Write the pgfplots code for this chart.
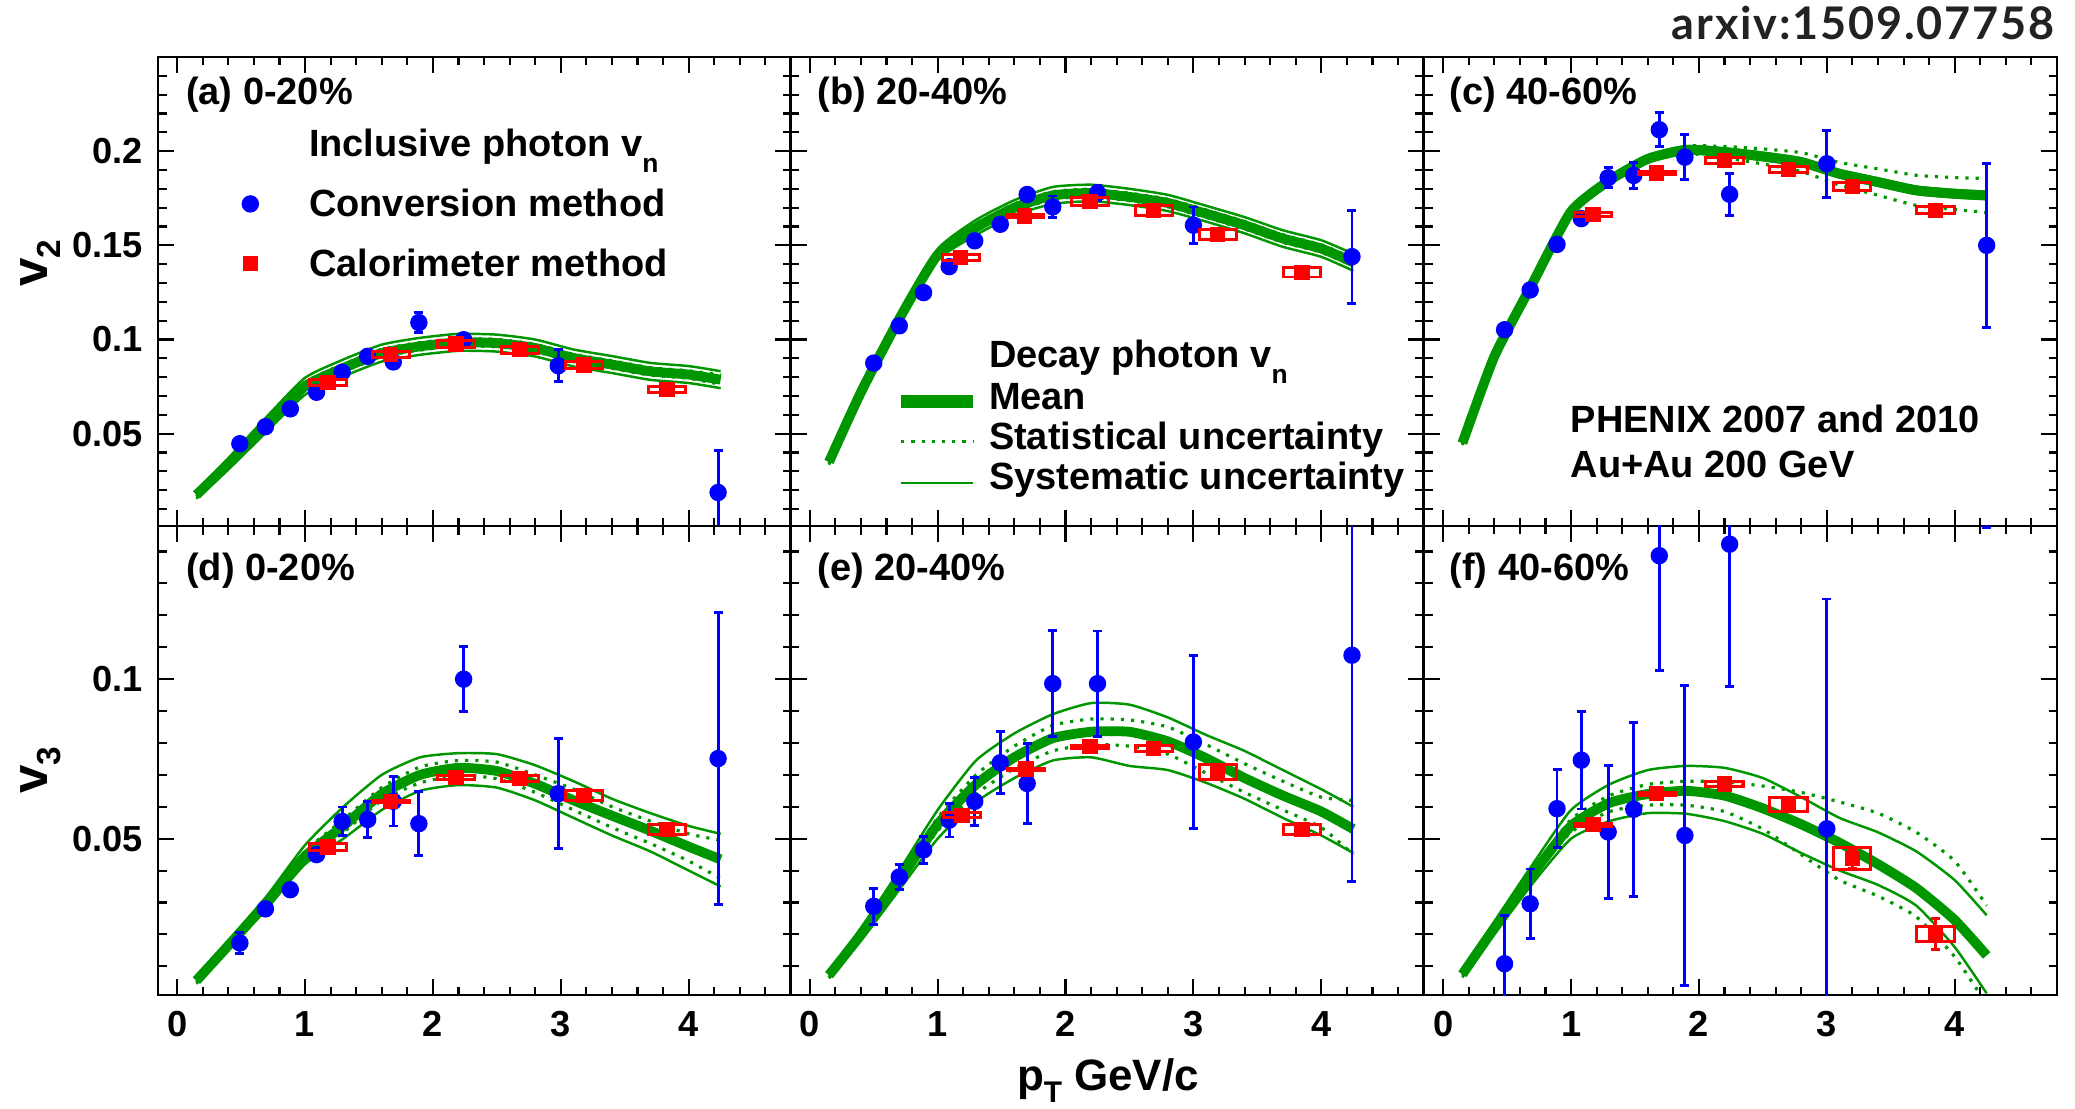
\documentclass[border=0pt]{standalone}
\usepackage{fontspec}
\setmainfont{Liberation Sans}
\newfontfamily\latofont{Lato}
\usepackage{pgfplots}
\pgfplotsset{compat=1.18}
\usepackage{pgfplotstable}

\definecolor{rgreen}{RGB}{0,150,0}
\definecolor{rblue}{RGB}{0,0,255}
\definecolor{rred}{RGB}{255,0,0}
\definecolor{arx}{RGB}{34,34,34}

\newcommand\txt{\fontsize{10.8}{12}\selectfont\bfseries}
\newcommand\tickfont{\fontsize{10.3}{12}\selectfont\bfseries}
\newcommand\titfont{\fontsize{12.5}{14}\selectfont\bfseries}
\newcommand\ytitfont{\fontsize{14.5}{16}\selectfont\bfseries}
\newcommand\sub[1]{\raisebox{-1.6mm}{\fontsize{7.5}{8}\selectfont #1}}
\newcommand\tsub[1]{\raisebox{-1.2mm}{\fontsize{8.5}{9}\selectfont #1}}
\newcommand\ysub[1]{\raisebox{-1.3mm}{\fontsize{9.5}{10}\selectfont #1}}

% ---------------- decay photon bands: x, mean, sys up, sys low, stat up, stat low
\pgfplotstableread{
x m su sl tu tl
0.15 0.0175 0.0195 0.0155 0.0185 0.0165
0.4 0.034 0.037 0.031 0.0355 0.0325
0.7 0.055 0.059 0.051 0.057 0.053
1.0 0.0752 0.0797 0.0707 0.0772 0.0732
1.3 0.0849 0.0894 0.0804 0.0869 0.0829
1.6 0.0928 0.0973 0.0883 0.0948 0.0908
1.9 0.0964 0.1009 0.0919 0.0984 0.0944
2.2 0.0985 0.103 0.094 0.1005 0.0965
2.5 0.0981 0.1026 0.0936 0.1001 0.0961
2.8 0.0955 0.100 0.091 0.0975 0.0935
3.1 0.0902 0.0947 0.0857 0.0922 0.0882
3.4 0.0867 0.0912 0.0822 0.0887 0.0847
3.7 0.0831 0.0876 0.0786 0.0851 0.0811
4.0 0.0814 0.0859 0.0769 0.0834 0.0794
4.25 0.0787 0.0832 0.0742 0.0812 0.0762
}\banda
\pgfplotstableread{
x m su sl tu tl
0.15 0.035 0.0365 0.0335 0.036 0.034
0.4 0.072 0.074 0.070 0.073 0.071
0.7 0.111 0.1135 0.1085 0.112 0.110
1.0 0.145 0.148 0.142 0.1465 0.1435
1.3 0.1595 0.1635 0.1555 0.1615 0.1575
1.6 0.170 0.174 0.166 0.172 0.168
1.9 0.1765 0.181 0.172 0.1785 0.1745
2.2 0.1778 0.1822 0.1734 0.1798 0.1758
2.5 0.1757 0.180 0.1714 0.1777 0.1737
2.8 0.1725 0.1768 0.1682 0.1745 0.1705
3.1 0.1668 0.171 0.1626 0.1688 0.1648
3.4 0.1607 0.165 0.1564 0.1627 0.1587
3.7 0.1536 0.158 0.1492 0.1556 0.1516
4.0 0.1483 0.1527 0.1439 0.1503 0.1463
4.25 0.141 0.1455 0.1365 0.143 0.139
}\bandb
\pgfplotstableread{
x m su sl tu tl
0.15 0.045 0.046 0.044 0.0458 0.0442
0.4 0.091 0.0925 0.0895 0.092 0.090
0.7 0.130 0.132 0.128 0.131 0.129
1.0 0.168 0.170 0.166 0.1693 0.1667
1.3 0.1845 0.1865 0.1825 0.186 0.183
1.6 0.1959 0.1979 0.1939 0.1974 0.1944
1.9 0.2007 0.2027 0.1987 0.2027 0.1987
2.2 0.1995 0.2015 0.1975 0.2025 0.1965
2.5 0.1972 0.1992 0.1952 0.2012 0.1932
2.8 0.1942 0.1962 0.1922 0.1992 0.1892
3.1 0.188 0.190 0.186 0.194 0.182
3.4 0.1836 0.1856 0.1816 0.1906 0.1766
3.7 0.1792 0.1812 0.1772 0.1872 0.1712
4.0 0.1774 0.1794 0.1754 0.186 0.169
4.25 0.1765 0.1785 0.1745 0.1855 0.1675
}\bandc
\pgfplotstableread{
x m su sl tu tl
0.15 0.0055 0.0065 0.0045 0.006 0.005
0.4 0.0165 0.018 0.015 0.0175 0.0155
0.7 0.030 0.032 0.028 0.031 0.029
1.0 0.0445 0.048 0.042 0.046 0.043
1.3 0.054 0.060 0.050 0.056 0.052
1.6 0.064 0.070 0.059 0.066 0.062
1.9 0.0700 0.0755 0.0650 0.0725 0.0675
2.2 0.0722 0.0768 0.0668 0.0745 0.0698
2.5 0.0712 0.0765 0.0660 0.0740 0.0688
2.8 0.0672 0.0730 0.0620 0.0700 0.0645
3.1 0.0620 0.0680 0.0565 0.0655 0.0590
3.4 0.0572 0.0625 0.0510 0.0600 0.0535
3.7 0.0525 0.0580 0.0460 0.0555 0.0485
4.0 0.0475 0.0540 0.0400 0.0515 0.0430
4.25 0.0435 0.0515 0.0350 0.0495 0.0375
}\bandd
\pgfplotstableread{
x m su sl tu tl
0.15 0.0072 0.0082 0.0062 0.0078 0.0066
0.4 0.020 0.022 0.018 0.021 0.019
0.7 0.037 0.040 0.034 0.0385 0.0355
1.0 0.0545 0.059 0.050 0.0565 0.0525
1.3 0.067 0.0745 0.0615 0.070 0.064
1.6 0.0755 0.083 0.069 0.079 0.072
1.9 0.0815 0.089 0.0745 0.0855 0.0775
2.2 0.0835 0.0925 0.0755 0.0875 0.0795
2.5 0.0835 0.092 0.0728 0.0872 0.0790
2.8 0.0805 0.088 0.0715 0.0850 0.0765
3.1 0.0752 0.0825 0.0675 0.0795 0.0705
3.4 0.0690 0.0775 0.0625 0.0735 0.0645
3.7 0.0635 0.0715 0.0565 0.0680 0.0590
4.0 0.0585 0.0655 0.0510 0.0630 0.0535
4.25 0.0530 0.0600 0.0455 0.0620 0.0450
}\bande
\pgfplotstableread{
x m su sl tu tl
0.15 0.0075 0.0085 0.0065 0.008 0.007
0.4 0.022 0.024 0.020 0.023 0.021
0.7 0.039 0.042 0.036 0.040 0.038
1.0 0.054 0.059 0.050 0.056 0.052
1.3 0.0612 0.067 0.0555 0.0635 0.0585
1.6 0.064 0.0715 0.058 0.067 0.0605
1.9 0.065 0.0728 0.0578 0.068 0.0605
2.2 0.0635 0.0722 0.0555 0.0678 0.0585
2.5 0.0595 0.069 0.0515 0.0665 0.053
2.8 0.0545 0.063 0.0455 0.0645 0.045
3.1 0.0487 0.0565 0.040 0.0615 0.037
3.4 0.042 0.052 0.0355 0.058 0.032
3.7 0.0345 0.046 0.029 0.052 0.0255
4.0 0.0245 0.037 0.016 0.043 0.013
4.25 0.0134 0.026 0.0015 0.029 -0.002
}\bandf

% ---------------- conversion method: x, v, stat error
\pgfplotstableread{
x y ey
0.49 0.0447 0.0012
0.69 0.0537 0.0012
0.885 0.0632 0.0012
1.09 0.0720 0.0012
1.29 0.0826 0.0012
1.49 0.0911 0.0012
1.69 0.0881 0.0015
1.89 0.1090 0.0053
2.24 0.0999 0.0030
2.98 0.0861 0.0084
4.23 0.0188 0.0221
}\conva
\pgfplotstableread{
x y ey
0.50 0.0875 0.0012
0.70 0.1073 0.0012
0.89 0.1249 0.0012
1.09 0.1387 0.0012
1.29 0.1524 0.0012
1.49 0.1612 0.0012
1.70 0.1770 0.0020
1.90 0.1704 0.0058
2.25 0.1778 0.0040
3.00 0.1607 0.0097
4.24 0.1440 0.0247
}\convb
\pgfplotstableread{
x y ey
0.48 0.1052 0.0012
0.68 0.1263 0.0012
0.89 0.1505 0.0012
1.08 0.1642 0.0012
1.29 0.1859 0.0053
1.49 0.1871 0.0068
1.69 0.2114 0.0090
1.89 0.1968 0.0119
2.24 0.1771 0.0112
3.00 0.1933 0.0178
4.25 0.1500 0.0436
}\convc
\pgfplotstableread{
x y ey
0.49 0.0173 0.0032
0.69 0.0280 0.0010
0.885 0.0340 0.0015
1.09 0.0450 0.0015
1.29 0.0554 0.0045
1.49 0.0560 0.0056
1.69 0.0617 0.0077
1.89 0.0547 0.0100
2.24 0.1000 0.0102
2.98 0.0641 0.0172
4.23 0.0751 0.0458
}\convd
\pgfplotstableread{
x y ey
0.50 0.0288 0.0056
0.70 0.0380 0.0040
0.89 0.0465 0.0042
1.09 0.0558 0.0053
1.29 0.0617 0.0075
1.49 0.0738 0.0097
1.70 0.0673 0.0126
1.90 0.0986 0.0167
2.25 0.0986 0.0165
3.00 0.0803 0.0270
4.24 0.1075 0.0710
}\conve
\pgfplotstableread{
x y ey
0.48 0.0108 0.0151
0.68 0.0296 0.0109
0.89 0.0594 0.0122
1.08 0.0746 0.0153
1.29 0.0521 0.0208
1.49 0.0592 0.0272
1.69 0.1387 0.0360
1.89 0.0510 0.0470
2.24 0.1423 0.0446
3.00 0.0531 0.0720
4.25 0.1900 0.0425
}\convf

% ---------------- calorimeter method: x, v, stat error
\pgfplotstableread{
x y ey
1.18 0.0773 0.0005
1.67 0.0919 0.0005
2.18 0.0976 0.0005
2.68 0.0946 0.0005
3.18 0.0865 0.0005
3.83 0.0734 0.0005
}\cala
\pgfplotstableread{
x y ey
1.18 0.1434 0.0005
1.68 0.1656 0.0005
2.19 0.1734 0.0005
2.69 0.1686 0.0005
3.19 0.1557 0.0005
3.85 0.1357 0.0005
}\calb
\pgfplotstableread{
x y ey
1.17 0.1665 0.0005
1.67 0.1885 0.0005
2.20 0.1950 0.0005
2.70 0.1903 0.0005
3.20 0.1813 0.0005
3.85 0.1686 0.0005
}\calc
\pgfplotstableread{
x y ey
1.18 0.0474 0.0003
1.67 0.0616 0.0003
2.18 0.0691 0.0003
2.68 0.0689 0.0003
3.18 0.0636 0.0003
3.83 0.0528 0.0003
}\cald
\pgfplotstableread{
x y ey
1.19 0.0573 0.0003
1.69 0.0718 0.0003
2.19 0.0788 0.0003
2.69 0.0782 0.0003
3.19 0.0709 0.0003
3.85 0.0529 0.0003
}\cale
\pgfplotstableread{
x y ey
1.17 0.0544 0.0003
1.67 0.0641 0.0003
2.20 0.0671 0.0003
2.70 0.0607 0.0008
3.20 0.0437 0.0030
3.85 0.0202 0.0049
}\calf

\pgfplotsset{
  panel/.style={
    width=63.3mm, height=46.9mm, scale only axis, anchor=south west,
    xmin=-0.15, xmax=4.8,
    xtick={0,1,2,3,4},
    minor xtick={0.2,0.4,0.6,0.8,1.2,1.4,1.6,1.8,2.2,2.4,2.6,2.8,3.2,3.4,3.6,3.8,4.2,4.4,4.6},
    tick align=inside, xtick pos=both, ytick pos=both,
    xticklabel pos=lower, yticklabel pos=left,
    major tick length=1.6mm, minor tick length=0.85mm,
    tick style={black, line width=0.6pt},
    axis line style={line width=0.8pt},
    clip mode=individual,
    ticklabel style={font=\tickfont},
    /pgf/number format/assume math mode=true,
    /pgf/number format/fixed,
    /pgf/number format/precision=2,
    xticklabel style={yshift=-0.4mm},
    yticklabel style={xshift=-0.3mm},
  },
  toprow/.style={ymin=0.001, ymax=0.25, ytick={0.05,0.1,0.15,0.2},
    minor ytick={0.01,0.02,0.03,0.04,0.06,0.07,0.08,0.09,0.11,0.12,0.13,0.14,0.16,0.17,0.18,0.19,0.21,0.22,0.23,0.24}},
  botrow/.style={ymin=0.001, ymax=0.148, ytick={0.05,0.1},
    minor ytick={0.01,0.02,0.03,0.04,0.06,0.07,0.08,0.09,0.11,0.12,0.13,0.14}},
  meanl/.style={rgreen, line width=2.8pt, smooth, tension=0.35, no marks},
  sysl/.style={rgreen, line width=0.7pt, smooth, tension=0.35, no marks},
  statl/.style={rgreen, line width=0.9pt, dash pattern=on 0.9pt off 2pt, smooth, tension=0.35, no marks},
  convp/.style={only marks, mark=*, mark size=0.8mm, rblue, mark options={fill=rblue, draw=rblue},
    error bars/.cd, y dir=both, y explicit, error mark=-,
    error bar style={line width=0.8pt, rblue},
    error mark options={rotate=90, rblue, mark size=0.45mm, line width=0.8pt}},
  calp/.style={only marks, mark=square*, mark size=0.7mm, rred, mark options={fill=rred, draw=rred},
    error bars/.cd, y dir=both, y explicit, error mark=-,
    error bar style={line width=0.8pt, rred},
    error mark options={rotate=90, rred, mark size=0.45mm, line width=0.8pt}},
  sysbox/.style={rred, line width=0.85pt, no marks, sharp plot, unbounded coords=jump},
}

\newcommand\drawbands[1]{%
  \addplot[sysl] table[x=x,y=su]{#1};
  \addplot[sysl] table[x=x,y=sl]{#1};
  \addplot[statl] table[x=x,y=tu]{#1};
  \addplot[statl] table[x=x,y=tl]{#1};
  \addplot[meanl] table[x=x,y=m]{#1};
}

\begin{document}
\begin{tikzpicture}
\path[use as bounding box] (0,0) rectangle (207.5mm,-110.9mm);

% ================= (a)
\begin{axis}[panel, toprow, at={(15.8mm,-52.6mm)}, xticklabel=\empty]
\drawbands{\banda}
\addplot[convp] table[x=x,y=y,y error=ey]{\conva};
\addplot[sysbox] table{
x y
1.035 0.0756
1.325 0.0756
1.325 0.0790
1.035 0.0790
1.035 0.0756
1.325 0.0756
nan nan
1.525 0.0902
1.815 0.0902
1.815 0.0936
1.525 0.0936
1.525 0.0902
1.815 0.0902
nan nan
2.035 0.0959
2.325 0.0959
2.325 0.0993
2.035 0.0993
2.035 0.0959
2.325 0.0959
nan nan
2.535 0.0928
2.825 0.0928
2.825 0.0964
2.535 0.0964
2.535 0.0928
2.825 0.0928
nan nan
3.035 0.0845
3.325 0.0845
3.325 0.0885
3.035 0.0885
3.035 0.0845
3.325 0.0845
nan nan
3.685 0.0719
3.975 0.0719
3.975 0.0749
3.685 0.0749
3.685 0.0719
3.975 0.0719
};
\addplot[calp] table[x=x,y=y,y error=ey]{\cala};
% legend swatches
\addplot[only marks, mark=*, mark size=0.8mm, rblue, mark options={fill=rblue}] coordinates {(0.572,0.172)};
\addplot[only marks, mark=square*, mark size=0.7mm, rred, mark options={fill=rred}] coordinates {(0.572,0.1405)};
\end{axis}

% ================= (b)
\begin{axis}[panel, toprow, at={(79.06mm,-52.6mm)}, xticklabel=\empty, yticklabel=\empty]
\drawbands{\bandb}
\addplot[convp] table[x=x,y=y,y error=ey]{\convb};
\addplot[sysbox] table{
x y
1.035 0.1417
1.325 0.1417
1.325 0.1451
1.035 0.1451
1.035 0.1417
1.325 0.1417
nan nan
1.535 0.1648
1.825 0.1648
1.825 0.1664
1.535 0.1664
1.535 0.1648
1.825 0.1648
nan nan
2.045 0.1714
2.335 0.1714
2.335 0.1754
2.045 0.1754
2.045 0.1714
2.335 0.1714
nan nan
2.545 0.1661
2.835 0.1661
2.835 0.1711
2.545 0.1711
2.545 0.1661
2.835 0.1661
nan nan
3.045 0.1530
3.335 0.1530
3.335 0.1584
3.045 0.1584
3.045 0.1530
3.335 0.1530
nan nan
3.705 0.1332
3.995 0.1332
3.995 0.1382
3.705 0.1382
3.705 0.1332
3.995 0.1332
};
\addplot[calp] table[x=x,y=y,y error=ey]{\calb};
% legend line samples
\addplot[rgreen, line width=3.6pt, no marks] coordinates {(0.715,0.067) (1.275,0.067)};
\addplot[rgreen, line width=0.9pt, dash pattern=on 0.9pt off 2pt, no marks] coordinates {(0.715,0.0458) (1.275,0.0458)};
\addplot[rgreen, line width=0.7pt, no marks] coordinates {(0.715,0.0237) (1.275,0.0237)};
\end{axis}

% ================= (c)
\begin{axis}[panel, toprow, at={(142.4mm,-52.6mm)}, xticklabel=\empty, yticklabel=\empty]
\drawbands{\bandc}
\addplot[convp] table[x=x,y=y,y error=ey]{\convc};
\addplot[sysbox] table{
x y
1.025 0.1653
1.315 0.1653
1.315 0.1677
1.025 0.1677
1.025 0.1653
1.315 0.1653
nan nan
1.525 0.1877
1.815 0.1877
1.815 0.1893
1.525 0.1893
1.525 0.1877
1.815 0.1877
nan nan
2.055 0.1933
2.345 0.1933
2.345 0.1967
2.055 0.1967
2.055 0.1933
2.345 0.1933
nan nan
2.555 0.1885
2.845 0.1885
2.845 0.1921
2.555 0.1921
2.555 0.1885
2.845 0.1885
nan nan
3.055 0.1793
3.345 0.1793
3.345 0.1833
3.055 0.1833
3.055 0.1793
3.345 0.1793
nan nan
3.705 0.1668
3.995 0.1668
3.995 0.1704
3.705 0.1704
3.705 0.1668
3.995 0.1668
};
\addplot[calp] table[x=x,y=y,y error=ey]{\calc};
\end{axis}

% ================= (d)
\begin{axis}[panel, botrow, at={(15.8mm,-99.5mm)}]
\drawbands{\bandd}
\addplot[convp] table[x=x,y=y,y error=ey]{\convd};
\addplot[sysbox] table{
x y
1.035 0.0464
1.325 0.0464
1.325 0.0484
1.035 0.0484
1.035 0.0464
1.325 0.0464
nan nan
1.525 0.0612
1.815 0.0612
1.815 0.0620
1.525 0.0620
1.525 0.0612
1.815 0.0612
nan nan
2.035 0.0684
2.325 0.0684
2.325 0.0698
2.035 0.0698
2.035 0.0684
2.325 0.0684
nan nan
2.535 0.0679
2.825 0.0679
2.825 0.0699
2.535 0.0699
2.535 0.0679
2.825 0.0679
nan nan
3.035 0.0620
3.325 0.0620
3.325 0.0652
3.035 0.0652
3.035 0.0620
3.325 0.0620
nan nan
3.685 0.0513
3.975 0.0513
3.975 0.0543
3.685 0.0543
3.685 0.0513
3.975 0.0513
};
\addplot[calp] table[x=x,y=y,y error=ey]{\cald};
\end{axis}

% ================= (e)
\begin{axis}[panel, botrow, at={(79.06mm,-99.5mm)}, yticklabel=\empty]
\drawbands{\bande}
\addplot[convp] table[x=x,y=y,y error=ey]{\conve};
\addplot[sysbox] table{
x y
1.045 0.0565
1.335 0.0565
1.335 0.0581
1.045 0.0581
1.045 0.0565
1.335 0.0565
nan nan
1.545 0.0715
1.835 0.0715
1.835 0.0721
1.545 0.0721
1.545 0.0715
1.835 0.0715
nan nan
2.045 0.0783
2.335 0.0783
2.335 0.0793
2.045 0.0793
2.045 0.0783
2.335 0.0783
nan nan
2.545 0.0772
2.835 0.0772
2.835 0.0792
2.545 0.0792
2.545 0.0772
2.835 0.0772
nan nan
3.045 0.0686
3.335 0.0686
3.335 0.0732
3.045 0.0732
3.045 0.0686
3.335 0.0686
nan nan
3.705 0.0513
3.995 0.0513
3.995 0.0545
3.705 0.0545
3.705 0.0513
3.995 0.0513
};
\addplot[calp] table[x=x,y=y,y error=ey]{\cale};
\end{axis}

% ================= (f)
\begin{axis}[panel, botrow, at={(142.4mm,-99.5mm)}, yticklabel=\empty]
\drawbands{\bandf}
\addplot[convp] table[x=x,y=y,y error=ey]{\convf};
\addplot[sysbox] table{
x y
1.025 0.0539
1.315 0.0539
1.315 0.0549
1.025 0.0549
1.025 0.0539
1.315 0.0539
nan nan
1.525 0.0636
1.815 0.0636
1.815 0.0646
1.525 0.0646
1.525 0.0636
1.815 0.0636
nan nan
2.055 0.0663
2.345 0.0663
2.345 0.0679
2.055 0.0679
2.055 0.0663
2.345 0.0663
nan nan
2.555 0.0584
2.845 0.0584
2.845 0.0630
2.555 0.0630
2.555 0.0584
2.845 0.0584
nan nan
3.055 0.0403
3.345 0.0403
3.345 0.0471
3.055 0.0471
3.055 0.0403
3.345 0.0403
nan nan
3.705 0.0179
3.995 0.0179
3.995 0.0225
3.705 0.0225
3.705 0.0179
3.995 0.0179
};
\addplot[calp] table[x=x,y=y,y error=ey]{\calf};
\end{axis}

% ================= texts
\node[anchor=base west, font=\txt, inner sep=0pt] at (18.55mm,-10.5mm) {(a) 0-20\%};
\node[anchor=base west, font=\txt, inner sep=0pt] at (81.7mm,-10.5mm) {(b) 20-40\%};
\node[anchor=base west, font=\txt, inner sep=0pt] at (144.9mm,-10.5mm) {(c) 40-60\%};
\node[anchor=base west, font=\txt, inner sep=0pt] at (18.55mm,-58.0mm) {(d) 0-20\%};
\node[anchor=base west, font=\txt, inner sep=0pt] at (81.7mm,-58.0mm) {(e) 20-40\%};
\node[anchor=base west, font=\txt, inner sep=0pt] at (144.9mm,-58.0mm) {(f) 40-60\%};

\node[anchor=base west, font=\txt, inner sep=0pt] at (30.84mm,-15.7mm) {Inclusive photon v\sub{n}};
\node[anchor=base west, font=\txt, inner sep=0pt] at (30.84mm,-21.7mm) {Conversion method};
\node[anchor=base west, font=\txt, inner sep=0pt] at (30.84mm,-27.7mm) {Calorimeter method};

\node[anchor=base west, font=\txt, inner sep=0pt] at (98.83mm,-36.8mm) {Decay photon v\sub{n}};
\node[anchor=base west, font=\txt, inner sep=0pt] at (98.83mm,-41.0mm) {Mean};
\node[anchor=base west, font=\txt, inner sep=0pt] at (98.83mm,-45.0mm) {Statistical uncertainty};
\node[anchor=base west, font=\txt, inner sep=0pt] at (98.83mm,-49.0mm) {Systematic uncertainty};

\node[anchor=base west, font=\txt, inner sep=0pt] at (157.0mm,-43.3mm) {PHENIX 2007 and 2010};
\node[anchor=base west, font=\txt, inner sep=0pt] at (157.0mm,-47.8mm) {Au+Au 200 GeV};

\node[anchor=base east, inner sep=0pt, text=arx] at (205.5mm,-4.0mm)
  {\latofont\bfseries\addfontfeature{LetterSpace=4}\fontsize{12.8}{14}\selectfont arxiv:1509.07758};

\node[anchor=base, font=\titfont, inner sep=0pt] at (110.8mm,-109.0mm) {p\tsub{T} GeV/c};
\node[rotate=90, anchor=base, font=\ytitfont, inner sep=0pt] at (4.8mm,-26.3mm) {v\ysub{2}};
\node[rotate=90, anchor=base, font=\ytitfont, inner sep=0pt] at (4.8mm,-77.0mm) {v\ysub{3}};
\end{tikzpicture}
\end{document}
